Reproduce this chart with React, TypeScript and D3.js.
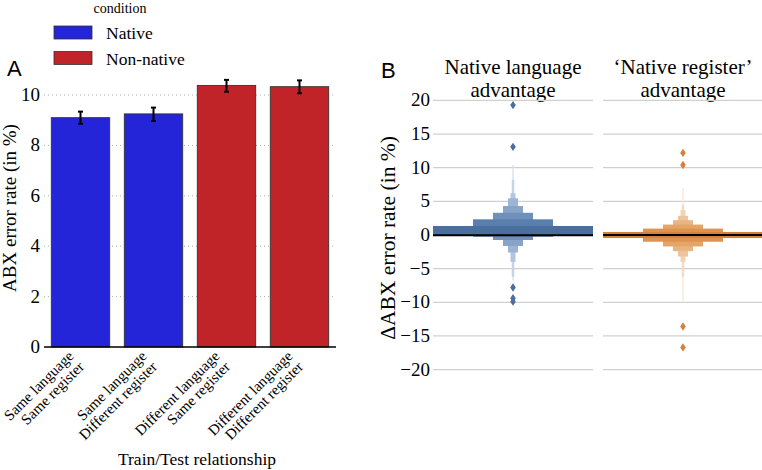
import React from "react";
import * as d3 from "d3";

// ---------- Panel A data ----------
const categories: string[][] = [
  ["Same language", "Same register"],
  ["Same language", "Different register"],
  ["Different language", "Same register"],
  ["Different language", "Different register"],
];
const conditionOf = ["Native", "Native", "Non-native", "Non-native"];
const means = [9.1, 9.25, 10.38, 10.33];
const ciLow = [8.86, 8.97, 10.13, 10.07];
const ciHigh = [9.34, 9.5, 10.6, 10.58];
const yTicksA = [0, 2, 4, 6, 8, 10];
const legendItems = ["Native", "Non-native"];

// ---------- Panel B data ----------
const facetTitles: string[][] = [
  ["Native language", "advantage"],
  ["\u2018Native register\u2019", "advantage"],
];
const lvLowerNative = [-0.1, -0.25, -0.74, -1.63, -2.6, -4.0, -6.2, -6.8];
const lvUpperNative = [1.34, 2.33, 3.3, 4.3, 5.45, 6.2, 8.2, 10.4];
const lvLowerRegister = [-0.45, -1.0, -1.7, -2.4, -3.2, -4.0, -6.2, -10.0];
const lvUpperRegister = [0.45, 0.95, 1.55, 2.2, 2.85, 3.7, 4.5, 7.0];
const mediansB = [-0.05, 0.0];
const outliersNative = [19.3, 13.1, -7.8, -9.4, -9.9];
const outliersRegister = [12.2, 10.4, -13.6, -16.7];
const yTicksB = [20, 15, 10, 5, 0, -5, -10, -15, -20];

// ---------- styles ----------
const condColor: Record<string, string> = { Native: "#2424d9", "Non-native": "#c02428" };
const bluePalette = ["#4a6e9e", "#5a7ead", "#6f90bb", "#87a3c8", "#9db5d4", "#b3c6df", "#c4d3e7", "#d6e1ef"];
const orangePalette = ["#d4813d", "#de9351", "#e4a569", "#e9b583", "#edc49d", "#f1d3b6", "#f3dcc6", "#f6e6d8"];
const SERIF = "'Liberation Serif', 'Times New Roman', serif";
const SANS = "'Liberation Sans', Arial, sans-serif";

export default function App() {
  const W = 762, H = 470;

  // Panel A scales
  const xA = d3.scaleBand<number>().domain(d3.range(categories.length)).range([44, 336]).paddingInner(0.2).paddingOuter(0.1);
  const yA = d3.scaleLinear().domain([0, 10]).range([347, 95]);

  // Panel B scales
  const yB = d3.scaleLinear().domain([-20, 20]).range([369.6, 100.4]);
  const facetW = 160;
  const facetStarts = [433, 603];
  const lvData = [
    { lower: lvLowerNative, upper: lvUpperNative, palette: bluePalette, out: outliersNative, outColor: "#4a6e9e" },
    { lower: lvLowerRegister, upper: lvUpperRegister, palette: orangePalette, out: outliersRegister, outColor: "#d4813d" },
  ];

  const diamond = (cx: number, cy: number) =>
    `M${cx},${cy - 4.2}L${cx + 2.8},${cy}L${cx},${cy + 4.2}L${cx - 2.8},${cy}Z`;

  return (
    <svg width={W} height={H} style={{ position: "absolute", left: 0, top: 0, background: "#fff" }}>
      {/* ================= Panel A ================= */}
      <text x={7} y={76} fontFamily={SANS} fontSize={22}>A</text>

      {/* legend */}
      <text x={120} y={13} fontFamily={SERIF} fontSize={14} textAnchor="middle">condition</text>
      {legendItems.map((c, i) => (
        <g key={c}>
          <rect x={54} y={26 + i * 25.5} width={38} height={13} fill={condColor[c]} stroke="#333" strokeWidth={0.8} />
          <text x={106} y={39 + i * 25.5} fontFamily={SERIF} fontSize={17.5}>{c}</text>
        </g>
      ))}

      {/* gridlines */}
      {yTicksA.filter((t) => t > 0).map((t) => (
        <line key={t} x1={44} x2={336} y1={yA(t)} y2={yA(t)} stroke="#999" strokeWidth={0.8} strokeDasharray="1,3" />
      ))}
      {yTicksA.map((t) => (
        <text key={t} x={40} y={yA(t) + 6} fontFamily={SERIF} fontSize={19} textAnchor="end">{t}</text>
      ))}

      {/* bars */}
      {means.map((m, i) => (
        <rect key={i} x={xA(i)!} y={yA(m)} width={xA.bandwidth()} height={yA(0) - yA(m)}
          fill={condColor[conditionOf[i]]} stroke="#333" strokeWidth={0.9} />
      ))}
      {means.map((m, i) => {
        const cx = xA(i)! + xA.bandwidth() / 2;
        return (
          <g key={i} stroke="#000" strokeWidth={2}>
            <line x1={cx} x2={cx} y1={yA(ciLow[i])} y2={yA(ciHigh[i])} />
            <line x1={cx - 2.5} x2={cx + 2.5} y1={yA(ciLow[i])} y2={yA(ciLow[i])} />
            <line x1={cx - 2.5} x2={cx + 2.5} y1={yA(ciHigh[i])} y2={yA(ciHigh[i])} />
          </g>
        );
      })}
      <line x1={44} x2={336} y1={yA(0)} y2={yA(0)} stroke="#000" strokeWidth={1.3} />

      {/* x tick labels */}
      {categories.map((lines, i) => {
        const cx = xA(i)! + xA.bandwidth() / 2;
        return (
          <text key={i} transform={`translate(${cx - 6},${357}) rotate(-45)`} fontFamily={SERIF} fontSize={15} textAnchor="end">
            <tspan x={0} y={0}>{lines[0]}</tspan>
            <tspan x={0} y={15}>{lines[1]}</tspan>
          </text>
        );
      })}
      <text x={197} y={465} fontFamily={SERIF} fontSize={17.5} textAnchor="middle">Train/Test relationship</text>
      <text transform={`translate(16,208) rotate(-90)`} fontFamily={SERIF} fontSize={19} textAnchor="middle">ABX error rate (in %)</text>

      {/* ================= Panel B ================= */}
      <text x={381} y={78} fontFamily={SANS} fontSize={22}>B</text>
      <text transform={`translate(395,238) rotate(-90)`} fontFamily={SERIF} fontSize={21.5} textAnchor="middle">ΔABX error rate (in %)</text>
      {yTicksB.map((t) => (
        <text key={t} x={430} y={yB(t) + 6} fontFamily={SERIF} fontSize={19} textAnchor="end">{t < 0 ? `\u2212${Math.abs(t)}` : t}</text>
      ))}

      {facetTitles.map((title, f) => {
        const x0 = facetStarts[f];
        const cx = x0 + facetW / 2;
        const d = lvData[f];
        const levels = d3.range(d.lower.length).reverse();
        return (
          <g key={f}>
            <text x={cx} y={74} fontFamily={SERIF} fontSize={21} textAnchor="middle">{title[0]}</text>
            <text x={cx} y={97} fontFamily={SERIF} fontSize={21} textAnchor="middle">{title[1]}</text>
            {yTicksB.map((t) => (
              <line key={t} x1={x0} x2={x0 + facetW} y1={yB(t)} y2={yB(t)} stroke="#d0d0d0" strokeWidth={1.3} />
            ))}
            {levels.map((k) => {
              const w = Math.max(facetW * Math.pow(0.5, k), 1.3);
              return (
                <rect key={k} x={cx - w / 2} y={yB(d.upper[k])} width={w} height={yB(d.lower[k]) - yB(d.upper[k])}
                  fill={d.palette[k]} />
              );
            })}
            <line x1={x0} x2={x0 + facetW} y1={yB(mediansB[f])} y2={yB(mediansB[f])} stroke="#000" strokeWidth={2} />
            {d.out.map((v, j) => (
              <path key={j} d={diamond(cx, yB(v))} fill={d.outColor} />
            ))}
          </g>
        );
      })}
    </svg>
  );
}
